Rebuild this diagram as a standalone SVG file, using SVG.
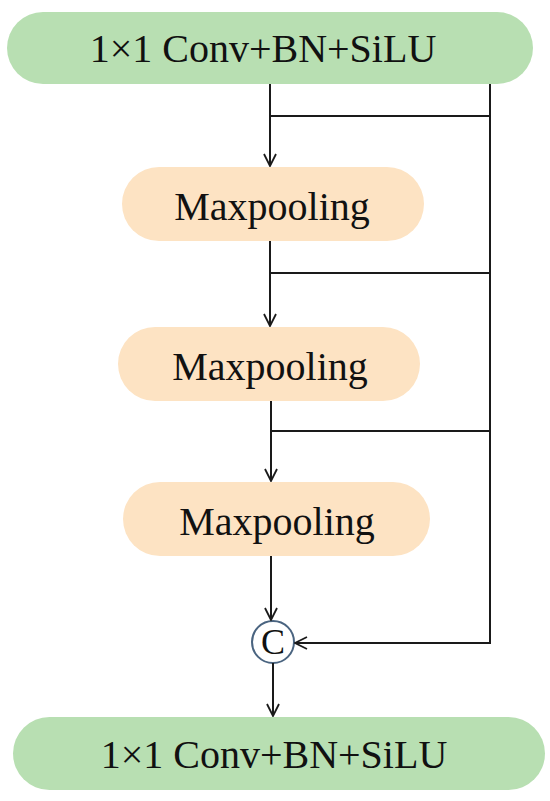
<svg xmlns="http://www.w3.org/2000/svg" width="550" height="801" viewBox="0 0 550 801">
<style>
.conv{fill:#b8dfb2}
.pool{fill:#fde3c3}
.t{font-family:"Liberation Serif","Times New Roman",serif;font-size:40px;fill:#111;text-anchor:middle}
.ln{fill:none;stroke:#1a1a1a;stroke-width:2}
.circ{fill:#fff;stroke:#4a6480;stroke-width:2}
</style>
<defs>
<marker id="arr" viewBox="0 0 14 14" refX="13" refY="7" markerWidth="14" markerHeight="14" markerUnits="userSpaceOnUse" orient="auto">
<path d="M1,1 L13,7 L1,13" fill="none" stroke="#1a1a1a" stroke-width="1.8"/>
</marker>
</defs>
<g id="conv-top">
<rect class="conv" x="7" y="12" width="526" height="72" rx="36"/>
<text class="t" x="263" y="62">1×1 Conv+BN+SiLU</text>
</g>
<g id="pool1">
<rect class="pool" x="122" y="167" width="302" height="74" rx="37"/>
<text class="t" x="272" y="220">Maxpooling</text>
</g>
<g id="pool2">
<rect class="pool" x="118" y="327" width="302" height="74" rx="37"/>
<text class="t" x="270" y="380">Maxpooling</text>
</g>
<g id="pool3">
<rect class="pool" x="123" y="482" width="307" height="74" rx="37"/>
<text class="t" x="277" y="535">Maxpooling</text>
</g>
<g id="concat">
<circle class="circ" cx="273" cy="642" r="21"/>
<text x="273" y="654" style="font-family:'Liberation Serif',serif;font-size:36px;fill:#111;text-anchor:middle">C</text>
</g>
<g id="conv-bottom">
<rect class="conv" x="13" y="717" width="532" height="73" rx="36.5"/>
<text class="t" x="274" y="768">1×1 Conv+BN+SiLU</text>
</g>
<g id="connectors">
<line class="ln" x1="270" y1="84" x2="270" y2="166" marker-end="url(#arr)"/>
<line class="ln" x1="270" y1="241" x2="270" y2="326" marker-end="url(#arr)"/>
<line class="ln" x1="271" y1="401" x2="271" y2="481" marker-end="url(#arr)"/>
<line class="ln" x1="271" y1="556" x2="271" y2="620" marker-end="url(#arr)"/>
<line class="ln" x1="273" y1="663" x2="273" y2="716" marker-end="url(#arr)"/>
<line class="ln" x1="270" y1="116" x2="490" y2="116"/>
<line class="ln" x1="270" y1="273" x2="490" y2="273"/>
<line class="ln" x1="271" y1="431" x2="490" y2="431"/>
<polyline class="ln" points="490,84 490,643 295,643" marker-end="url(#arr)"/>
</g>
</svg>
